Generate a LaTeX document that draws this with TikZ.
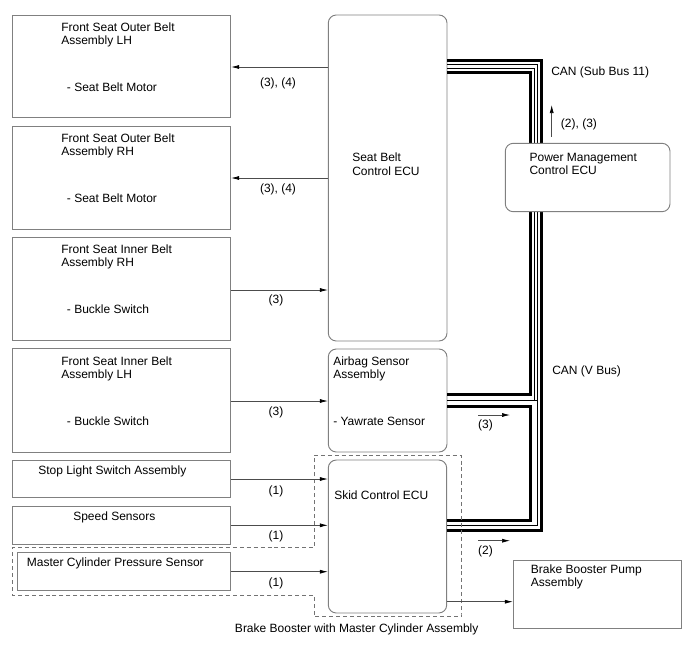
\documentclass[tikz,border=0pt]{standalone}
\usepackage{fontspec}
\setmainfont{Liberation Sans}
\usetikzlibrary{arrows.meta,fit}
\begin{document}
\begin{tikzpicture}[x=0.75pt,y=-0.75pt,
  lbox/.style={draw=black!50,line width=0.7pt,inner sep=0pt,fill=white},
  ecu/.style={draw=black!50,line width=0.7pt,inner sep=0pt,rounded corners=6pt,fill=white},
  txt/.style={inner sep=0pt,anchor=base west,font=\fontsize{9}{11}\selectfont},
  ctxt/.style={inner sep=0pt,anchor=base,font=\fontsize{9}{11}\selectfont},
  arr/.style={draw=black!70,line width=0.5pt,-{Latex[length=6pt,width=3pt,color=black]}},
  thickbus/.style={line width=2.25pt,line join=miter},
  thinbus/.style={line width=0.65pt,line join=miter},
  bnd/.style={draw=black!55,line width=0.7pt,dash pattern=on 3pt off 2.2pt}]
\useasboundingbox (0,0) rectangle (688,658);

% ---- CAN bus (drawn first, PM box covers it) ----
% boxes needed for anchors
\node[ecu,fit={(328.3,15) (447,341)}] (sbecu) {};
\node[ecu,fit={(328.3,349) (447,452)}] (airbag) {};
\node[ecu,fit={(328.3,460) (446.7,613)}] (skid) {};

\draw[thickbus] (sbecu.east |- 0,60.5) -- (541,60.5) -- (541,530.5) -- (skid.east |- 0,530.5);
\draw[thinbus] (sbecu.east |- 0,64.7) -- (537.5,64.7) -- (537.5,525) -- (skid.east |- 0,525);
\draw[thinbus] (sbecu.east |- 0,68.7) -- (534,68.7) -- (534,400.5) -- (airbag.east |- 0,400.5);
\draw[thinbus] (534,400.5) -- (537.5,400.5);
\draw[thickbus] (sbecu.east |- 0,72.5) -- (530,72.5) -- (530,394.5) -- (airbag.east |- 0,394.5);
\draw[thickbus] (airbag.east |- 0,406.5) -- (530,406.5) -- (530,520) -- (skid.east |- 0,520);

% ---- Power Management ECU ----
\node[ecu,fit={(505.3,143.3) (670,211.7)}] (pm) {};
\node[txt] (pm1) at (529.3,161.5) {Power Management};
\node[txt] (pm2) at (529.3,174.5) {Control ECU};

% ---- dashed boundary ----
\draw[bnd] (314,455) -- (461,455) -- (461,536.7) -- (461,614) -- (461,616.7) -- (314,616.7) -- (314,595) -- (12.3,595) -- (12.3,547.7) -- (314,547.7) -- cycle;

% ---- left boxes ----
\node[lbox,fit={(12.3,15) (230.7,117.7)}] (olh) {};
\node[txt] (olh1) at (61,31) {Front Seat Outer Belt};
\node[txt] (olh2) at (61,44) {Assembly LH};
\node[txt] (olh3) at (66.7,91) {- Seat Belt Motor};

\node[lbox,fit={(12.3,126) (230.7,229)}] (orh) {};
\node[txt] (orh1) at (61,142.3) {Front Seat Outer Belt};
\node[txt] (orh2) at (61,155.3) {Assembly RH};
\node[txt] (orh3) at (66.7,202.3) {- Seat Belt Motor};

\node[lbox,fit={(12.3,237.3) (230.7,340)}] (irh) {};
\node[txt] (irh1) at (61,253.5) {Front Seat Inner Belt};
\node[txt] (irh2) at (61,266.5) {Assembly RH};
\node[txt] (irh3) at (66.7,313.5) {- Buckle Switch};

\node[lbox,fit={(12.3,348.7) (230.7,452)}] (ilh) {};
\node[txt] (ilh1) at (61,365) {Front Seat Inner Belt};
\node[txt] (ilh2) at (61,378) {Assembly LH};
\node[txt] (ilh3) at (66.7,425) {- Buckle Switch};

\node[lbox,fit={(12.3,460) (230.7,497.7)}] (stop) {};
\node[txt] (stop1) at (38,474) {Stop Light Switch Assembly};

\node[lbox,fit={(12.3,506.7) (230.7,544)}] (speed) {};
\node[txt] (speed1) at (73,520) {Speed Sensors};

\node[lbox,fit={(17.3,552.7) (230.7,590.7)}] (mcps) {};
\node[txt] (mcps1) at (26.7,566) {Master Cylinder Pressure Sensor};

% ---- ECU texts ----
\node[txt] (sb1) at (352,161.5) {Seat Belt};
\node[txt] (sb2) at (352,175.5) {Control ECU};
\node[txt] (ab1) at (333,365) {Airbag Sensor};
\node[txt] (ab2) at (333,378.5) {Assembly};
\node[txt] (ab3) at (333,425) {- Yawrate Sensor};
\node[txt] (sk1) at (334,499) {Skid Control ECU};

% ---- pump ----
\node[lbox,fit={(513.3,560.7) (681,628)}] (pump) {};
\node[txt] (pu1) at (530.7,573.3) {Brake Booster Pump};
\node[txt] (pu2) at (530.7,586.7) {Assembly};

% ---- connectors ----
\draw[arr] (sbecu.west |- 0,67) -- (olh.east |- 0,67);
\draw[arr] (sbecu.west |- 0,178) -- (orh.east |- 0,178);
\draw[arr] (irh.east |- 0,290) -- (sbecu.west |- 0,290);
\draw[arr] (ilh.east |- 0,401) -- (airbag.west |- 0,401);
\draw[arr] (stop.east |- 0,479) -- (skid.west |- 0,479);
\draw[arr] (speed.east |- 0,525.3) -- (skid.west |- 0,525.3);
\draw[arr] (mcps.east |- 0,571.7) -- (skid.west |- 0,571.7);
\draw[arr] (skid.east |- 0,601.7) -- (pump.west |- 0,601.7);

\node[ctxt] (l1) at (278,86) {(3), (4)};
\node[ctxt] (l2) at (278,192) {(3), (4)};
\node[ctxt] (l3) at (276,303) {(3)};
\node[ctxt] (l4) at (276,415) {(3)};
\node[ctxt] (l5) at (276,494) {(1)};
\node[ctxt] (l6) at (276,539) {(1)};
\node[ctxt] (l7) at (276,586) {(1)};

% ---- bus direction arrows ----
\coordinate (u1) at (551.7,136.7);
\coordinate (u2) at (551.7,105);
\draw[arr] (u1) -- (u2);
\node[txt] (u3) at (560.7,127) {(2), (3)};
\coordinate (a1) at (478,415);
\coordinate (a2) at (510,415);
\draw[arr] (a1) -- (a2);
\node[ctxt] (a3) at (485.5,428) {(3)};
\coordinate (b1) at (478,540.7);
\coordinate (b2) at (510,540.7);
\draw[arr] (b1) -- (b2);
\node[ctxt] (b3) at (485.5,554) {(2)};

\node[txt] (can1) at (551,75.5) {CAN (Sub Bus 11)};
\node[txt] (can2) at (552,374) {CAN (V Bus)};
\node[ctxt] (bb) at (356.7,632) {Brake Booster with Master Cylinder Assembly};
\end{tikzpicture}
\end{document}
